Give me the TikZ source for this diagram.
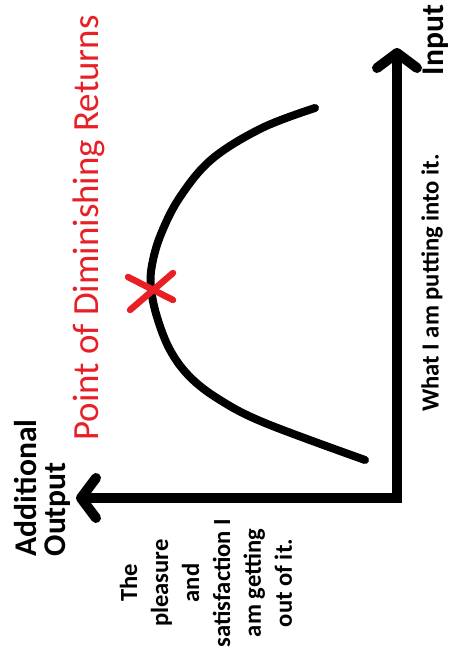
\documentclass[tikz,border=0pt]{standalone}
\usepackage{fontspec}
\setmainfont{Carlito}
\usetikzlibrary{arrows.meta}
\definecolor{dimred}{RGB}{232,32,38}

\begin{document}
\begin{tikzpicture}[x=0.02cm,y=-0.02cm,
    axisline/.style={line width=0.2cm, line join=miter,
      {Straight Barb[length=0.3cm,width=0.8cm,round]}-{Straight Barb[length=0.3cm,width=0.8cm,round]}},
    curveline/.style={line width=0.16cm, line cap=round},
    crossline/.style={line width=0.13cm, line cap=round, dimred},
    lbl/.style={rotate=90, inner sep=0pt, font=\bfseries}]
    \useasboundingbox (0,0) rectangle (449,661);
    % axes
    \coordinate (origin) at (397,498);
    \coordinate (xtip) at (76,498);
    \coordinate (ytip) at (397,48);
    \draw[axisline] (xtip) -- (origin) -- (ytip);
    % returns curve
    \draw[curveline] plot[smooth, tension=0.6] coordinates {(315,108) (262,128) (212,159) (180,197)
      (161,234) (152,265) (151,288) (157,317) (170,350) (190,377) (220,400) (265,423) (365,460)};
    % point of diminishing returns
    \coordinate (dimpt) at (151,288);
    \draw[crossline] (dimpt) +(-23,-11) -- +(22,12);
    \draw[crossline] (dimpt) +(-21,22) -- +(22,-15);
    \node[rotate=90, inner sep=0pt, text=dimred, font=\fontsize{21}{24}\selectfont] (title) at (89,228) {Point of Diminishing Returns};
    % labels
    \node[lbl, font=\bfseries\fontsize{18}{20}\selectfont] (inlbl) at (436,40) {Input};
    \node[lbl, font=\bfseries\fontsize{14}{17}\selectfont] (putlbl) at (432,283) {What I am putting into it.};
    \node[lbl, align=left, font=\bfseries\fontsize{18}{16.5}\selectfont] (outlbl) at (42,488) {Additional\\Output};
    \node[lbl, align=center, font=\bfseries\fontsize{14}{17.6}\selectfont] (getlbl) at (206,583)
      {The\\pleasure\\and\\satisfaction I\\am getting\\out of it.};
\end{tikzpicture}
\end{document}
